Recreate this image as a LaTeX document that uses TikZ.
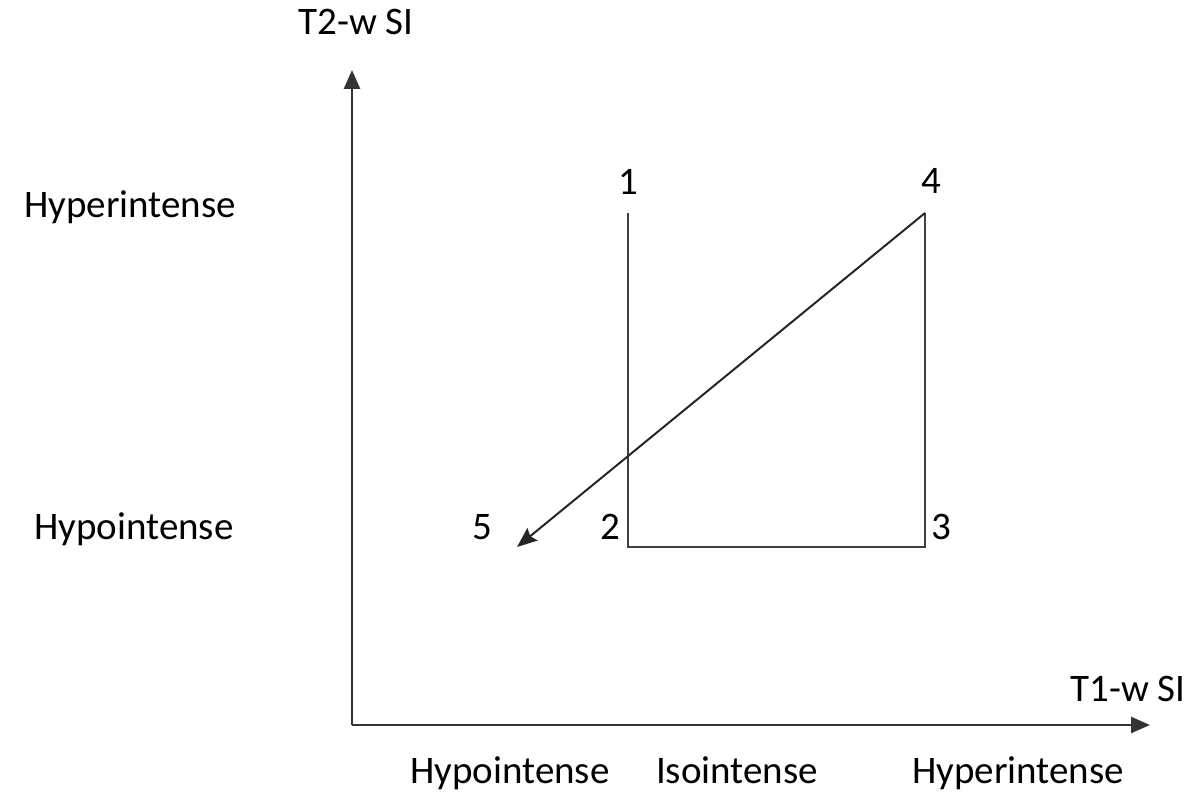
\documentclass[tikz,border=0pt]{standalone}
\usepackage{fontspec}
\setmainfont{Carlito}
\usetikzlibrary{positioning, arrows.meta}

\begin{document}
\begin{tikzpicture}[x=1pt, y=1pt,
    lbl/.style={font=\fontsize{39}{44}\selectfont, inner sep=0pt, anchor=base},
    axis/.style={-{Triangle[length=19pt, width=16pt]}, line width=2.6pt, draw=black!80},
    seg/.style={line width=2.2pt, draw=black!75},
    arr/.style={-{Stealth[length=20pt, width=16pt, inset=3pt]}, line width=2pt, draw=black!85}
  ]
  \useasboundingbox (0,0) rectangle (1195,794);

  % axes
  \coordinate (o)    at (352,69);
  \coordinate (ytip) at (352,724);
  \coordinate (xtip) at (1150,69);
  \draw[axis] (o) -- (ytip);
  \draw[axis] (o) -- (xtip);

  % corner points
  \coordinate (p1) at (628,581);
  \coordinate (p2) at (628,247);
  \coordinate (p3) at (925,247);
  \coordinate (p4) at (925,581);
  \coordinate (p5) at (517,247);

  \draw[seg] (p1) -- (p2) -- (p3) -- (p4);
  \draw[arr] (p4) -- (p5);

  % point labels
  \node[lbl] (n1) at (628,599) {1};
  \node[lbl] (n4) at (931,600) {4};
  \node[lbl] (n2) at (610,254) {2};
  \node[lbl] (n3) at (941,254) {3};
  \node[lbl] (n5) at (482,254) {5};

  % axis titles
  \node[lbl] (ty) at (356,759) {T2-w SI};
  \node[lbl] (tx) at (1128,92) {T1-w SI};

  % levels
  \node[lbl] (yhi) at (130,576) {Hyperintense};
  \node[lbl] (ylo) at (134,254) {Hypointense};
  \node[lbl] (xlo)  at (510,10)  {Hypointense};
  \node[lbl] (xiso) at (737,10)  {Isointense};
  \node[lbl] (xhi)  at (1018,10) {Hyperintense};
\end{tikzpicture}
\end{document}
